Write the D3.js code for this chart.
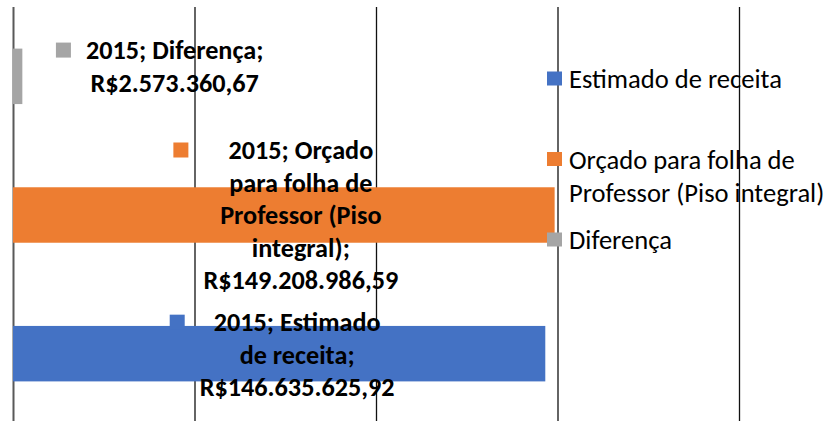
<!DOCTYPE html>
<html>
<head>
<meta charset="utf-8">
<script src="https://cdn.jsdelivr.net/npm/d3@7"></script>
<style>
  html, body { margin: 0; padding: 0; background: #fff; }
  svg { display: block; }
</style>
</head>
<body>
<svg id="chart" width="830" height="421"></svg>
<script>
// values (one category: 2015)
var year = "2015";
var categories = ["Estimado de receita", "Orçado para folha de Professor (Piso integral)", "Diferença"];
var values = [146635625.92, 149208986.59, 2573360.67];
var colors = ["#4472C4", "#ED7D31", "#A5A5A5"];
var xTicks = [0, 50e6, 100e6, 150e6, 200e6, 250e6];

// small nudges of the (hand-moved) data labels, in px
var labelDx = [3, 2, 142];
var labelDy = [1, 0, -10];

var font = "Carlito, Calibri, Lato, 'Open Sans', sans-serif";

var svg = d3.select("#chart"),
    width = +svg.attr("width"),
    height = +svg.attr("height"),
    plot = {top: 7, bottom: 423, left: 13};

var brl = d3.formatLocale({decimal: ",", thousands: ".", grouping: [3], currency: ["R$", ""]});
var money = brl.format("$,.2f");

var x = d3.scaleLinear()
    .domain([0, 250e6])
    .range([plot.left, plot.left + 5 * 181.5]);

var y = d3.scaleBand()
    .domain(categories.slice().reverse())
    .range([plot.top, plot.bottom])
    .paddingInner(0.6)
    .paddingOuter(0.3);

var color = d3.scaleOrdinal().domain(categories).range(colors);

// measuring helper
var probe = svg.append("text").attr("font-family", font).attr("x", -999).attr("y", -999);
function textWidth(str, size, weight) {
  probe.attr("font-size", size).attr("font-weight", weight).text(str);
  return probe.node().getComputedTextLength();
}
var labelSize = 24 * 195 / textWidth("R$149.208.986,59", 24, "bold");
var legendSize = 22 * 213 / textWidth("Estimado de receita", 22, "normal");

function wrap(str, size, weight, maxW) {
  var words = str.split(" "), lines = [], cur = "";
  words.forEach(function(w) {
    var test = cur ? cur + " " + w : w;
    if (cur && textWidth(test, size, weight) > maxW) { lines.push(cur); cur = w; }
    else cur = test;
  });
  if (cur) lines.push(cur);
  return lines;
}

// gridlines
svg.append("g")
    .attr("transform", "translate(0," + plot.top + ")")
    .call(d3.axisTop(x).tickValues(xTicks).tickSize(-(height - plot.top + 5)).tickFormat(""))
    .call(function(g) { g.select(".domain").remove(); })
  .selectAll("line")
    .attr("stroke", function(d) { return d === 0 ? "#595959" : "#111"; })
    .attr("stroke-width", function(d) { return d === 0 ? 2 : 1.3; });

// bars
var data = categories.map(function(c, i) { return {cat: c, value: values[i], i: i}; });

svg.append("g")
  .selectAll("rect")
  .data(data)
  .enter().append("rect")
    .attr("x", x(0))
    .attr("y", function(d) { return y(d.cat); })
    .attr("width", function(d) { return x(d.value) - x(0); })
    .attr("height", y.bandwidth())
    .attr("fill", function(d) { return color(d.cat); });

// data labels (key + wrapped text)
var lineH = 32.5;
var labels = svg.append("g")
  .selectAll("g")
  .data(data)
  .enter().append("g");

labels.each(function(d) {
  var g = d3.select(this);
  var lines = wrap(year + "; " + d.cat + "; " + money(d.value), labelSize, "bold", 188);
  var maxW = d3.max(lines, function(l) { return textWidth(l, labelSize, "bold"); });
  var cx = (x(0) + x(d.value)) / 2 + labelDx[d.i];
  var boxLeft = cx - (maxW + 30) / 2;
  var tx = boxLeft + 30 + maxW / 2;
  var cy = y(d.cat) + y.bandwidth() / 2 + labelDy[d.i];
  var y0 = cy - (lines.length - 1) * lineH / 2;

  g.append("rect")
      .attr("x", boxLeft)
      .attr("y", y0 - 7.5)
      .attr("width", 15)
      .attr("height", 15)
      .attr("fill", color(d.cat));

  g.selectAll("text")
    .data(lines)
    .enter().append("text")
      .attr("x", tx)
      .attr("y", function(l, k) { return y0 + k * lineH; })
      .attr("dy", "0.35em")
      .attr("text-anchor", "middle")
      .attr("font-family", font)
      .attr("font-weight", "bold")
      .attr("font-size", labelSize)
      .attr("fill", "#000")
      .text(function(l) { return l; });
});

// legend
var ly = d3.scalePoint().domain(categories).range([79, 240]);
var legend = svg.append("g")
  .selectAll("g")
  .data(categories)
  .enter().append("g");

legend.append("rect")
    .attr("x", 547)
    .attr("y", function(d) { return ly(d) - 7.5; })
    .attr("width", 15)
    .attr("height", 14)
    .attr("fill", color);

legend.each(function(d) {
  var lines = wrap(d, legendSize, "normal", 275);
  d3.select(this).selectAll("text")
    .data(lines)
    .enter().append("text")
      .attr("x", 569)
      .attr("y", function(l, k) { return ly(d) + k * 33; })
      .attr("dy", "0.35em")
      .attr("font-family", font)
      .attr("font-size", legendSize)
      .attr("fill", "#000")
      .text(function(l) { return l; });
});

probe.remove();
</script>
</body>
</html>
